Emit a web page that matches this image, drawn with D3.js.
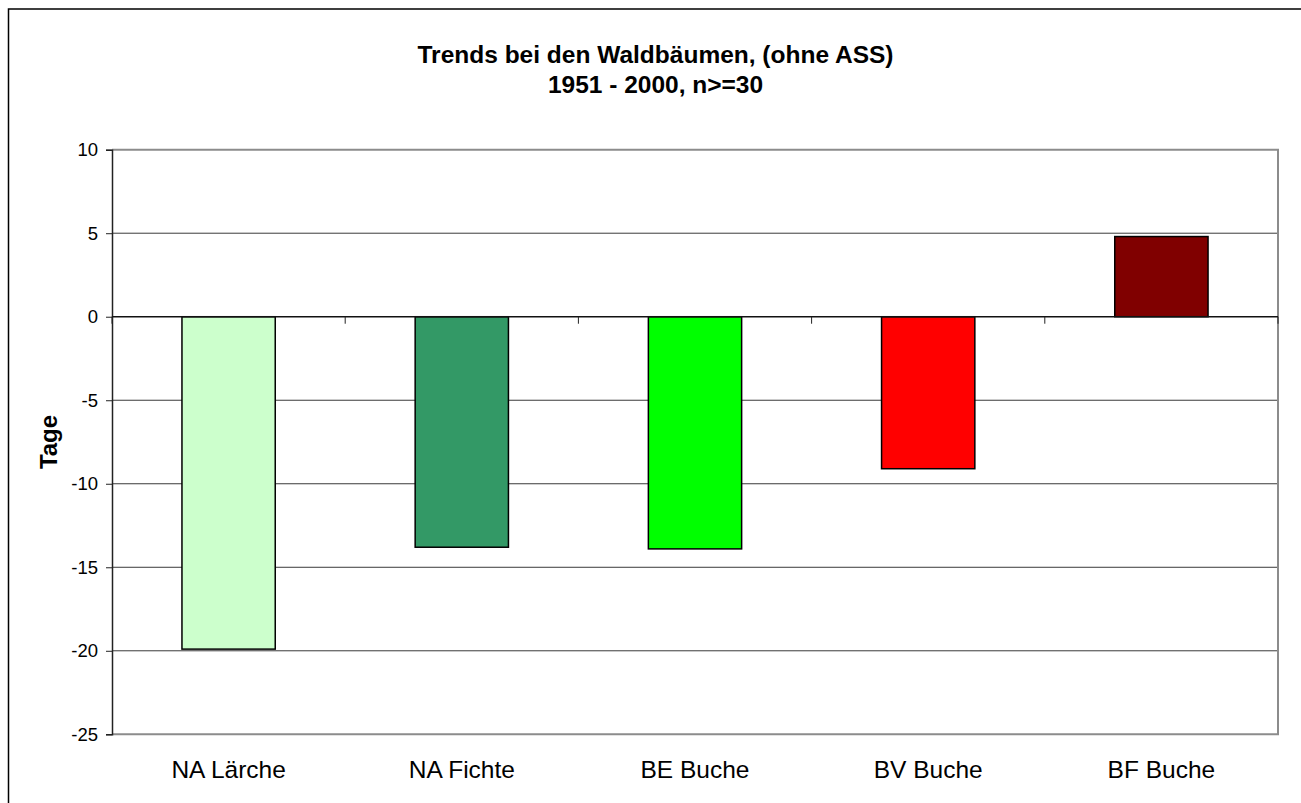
<!DOCTYPE html>
<html>
<head>
<meta charset="utf-8">
<script src="https://cdn.jsdelivr.net/npm/d3@7"></script>
<style>
  body { margin: 0; background: #fff; }
  svg { display: block; font-family: "Liberation Sans", Arial, sans-serif; }
</style>
</head>
<body>
<div id="chart"></div>
<script>
// data
var categories = ["NA Lärche", "NA Fichte", "BE Buche", "BV Buche", "BF Buche"],
  values = [-19.9, -13.8, -13.9, -9.1, 4.8],
  colors = ["#ccffcc", "#339966", "#00ff00", "#ff0000", "#800000"],
  yTicks = [-25, -20, -15, -10, -5, 0, 5, 10],
  titleLines = ["Trends bei den Waldbäumen, (ohne ASS)", "1951 - 2000, n>=30"],
  yLabel = "Tage";

// placement
var W = 1301, H = 803,
  pLeft = 112, pRight = 1278, pTop = 149.7, pBottom = 734.3;

var svg = d3.select("#chart").append("svg")
  .attr("width", W)
  .attr("height", H);

// outer chart frame (right/bottom edge run off the picture)
svg.append("rect")
  .attr("x", 8.5).attr("y", 9)
  .attr("width", 1300).attr("height", 800)
  .attr("fill", "#fff")
  .attr("stroke", "#000")
  .attr("stroke-width", 1.5);

var x = d3.scaleBand()
  .domain(categories)
  .range([pLeft, pRight])
  .paddingInner(0.6)
  .paddingOuter(0.3);

var y = d3.scaleLinear()
  .domain([-25, 10])
  .range([pBottom, pTop]);

// gridlines
svg.append("g").selectAll("line.grid")
  .data(yTicks.filter(function(d) { return d != 0 && d != -25 && d != 10; }))
  .enter().append("line")
  .attr("x1", pLeft).attr("x2", pRight)
  .attr("y1", function(d) { return y(d); })
  .attr("y2", function(d) { return y(d); })
  .attr("stroke", "#3a3a3a")
  .attr("stroke-width", 1);

// plot frame, top/right/bottom in gray
svg.append("path")
  .attr("d", "M" + pLeft + "," + pTop + "H" + pRight + "V" + pBottom + "H" + pLeft)
  .attr("fill", "none")
  .attr("stroke", "#8c8c8c")
  .attr("stroke-width", 2);

// bars
svg.append("g").selectAll("rect.bar")
  .data(values)
  .enter().append("rect")
  .attr("class", "bar")
  .attr("x", function(d, i) { return x(categories[i]); })
  .attr("width", x.bandwidth())
  .attr("y", function(d) { return y(Math.max(0, d)); })
  .attr("height", function(d) { return Math.abs(y(d) - y(0)); })
  .attr("fill", function(d, i) { return colors[i]; })
  .attr("stroke", "#000")
  .attr("stroke-width", 1.5);

// y axis
var yAxis = d3.axisLeft(y)
  .tickValues(yTicks)
  .tickSize(6)
  .tickPadding(8)
  .tickFormat(function(d) { return String(d); });

var gy = svg.append("g")
  .attr("transform", "translate(" + pLeft + ",0)")
  .call(yAxis);
gy.select(".domain").attr("stroke", "#222").attr("stroke-width", 1.5);
gy.selectAll(".tick line").attr("stroke", "#222");
gy.selectAll("text")
  .attr("fill", "#000")
  .style("font-size", "18.5px")
  .style("font-family", "Liberation Sans, Arial, sans-serif");

// zero line with category separators
svg.append("line")
  .attr("x1", pLeft).attr("x2", pRight)
  .attr("y1", y(0)).attr("y2", y(0))
  .attr("stroke", "#111")
  .attr("stroke-width", 1.5);

var seps = categories.map(function(c) { return x(c) - x.step() * x.paddingInner() / 2; });
seps.push(pRight);
svg.append("g").selectAll("line.sep")
  .data(seps)
  .enter().append("line")
  .attr("x1", function(d) { return d; })
  .attr("x2", function(d) { return d; })
  .attr("y1", y(0))
  .attr("y2", y(0) + 7)
  .attr("stroke", "#222")
  .attr("stroke-width", 1);

// category labels at the bottom
var xAxis = d3.axisBottom(x)
  .tickSize(0)
  .tickPadding(0);
var gx = svg.append("g")
  .attr("transform", "translate(0," + 760 + ")")
  .call(xAxis);
gx.select(".domain").remove();
gx.selectAll("text")
  .attr("fill", "#000")
  .attr("dy", "0.72em")
  .style("font-size", "24.5px")
  .style("font-family", "Liberation Sans, Arial, sans-serif");

// title
svg.append("text")
  .attr("x", 655.5)
  .attr("text-anchor", "middle")
  .style("font-size", "24.5px")
  .style("font-weight", "bold")
  .selectAll("tspan")
  .data(titleLines)
  .enter().append("tspan")
  .attr("x", 655.5)
  .attr("y", function(d, i) { return 62.7 + i * 30.6; })
  .text(function(d) { return d; });

// y label
svg.append("text")
  .attr("transform", "translate(57," + ((pTop + pBottom) / 2) + ")rotate(-90)")
  .attr("text-anchor", "middle")
  .style("font-size", "24px")
  .style("font-weight", "bold")
  .text(yLabel);
</script>
</body>
</html>
